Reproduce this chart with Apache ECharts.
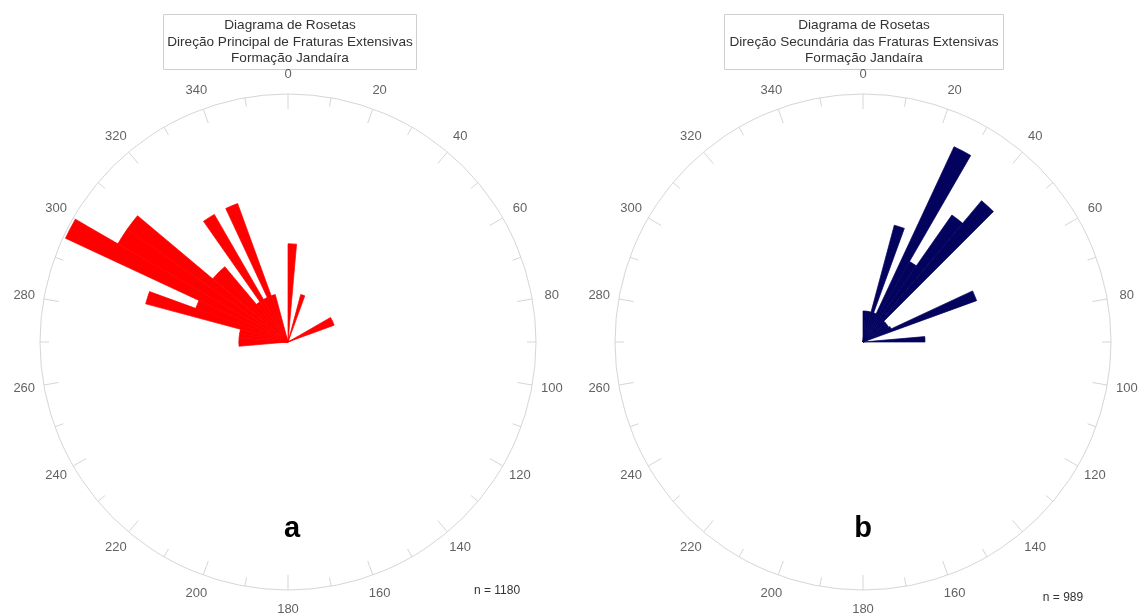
<!DOCTYPE html>
<html>
<head>
<meta charset="utf-8">
<script src="https://cdn.jsdelivr.net/npm/echarts@6/dist/echarts.min.js"></script>
<style>html,body{margin:0;padding:0;background:#fff}#c{width:1142px;height:616px}</style>
</head>
<body>
<div id="c"></div>
<script>
// 5-degree direction bins (start azimuth) and bar lengths (relative frequency units)
const binSize = 5;
const directionsA = [0, 15, 60, 65, 265, 270, 275, 280, 285, 290, 295, 300, 305, 310, 315, 320, 325, 330, 335, 340];
const valuesA     = [2, 1, 1, 1, 1, 1, 1, 1, 3, 2, 5, 4, 4, 2, 2, 1, 3, 1, 3, 1];
const maxA = 5.05;

const directionsB = [0, 5, 10, 15, 20, 25, 30, 35, 40, 45, 50, 55, 60, 65, 85];
const valuesB     = [1, 1, 1, 3.9, 1, 6.95, 3, 5, 5.95, 0.95, 0.95, 0.95, 1, 3.9, 2];
const maxB = 8;

const angleTicks = [0, 20, 40, 60, 80, 100, 120, 140, 160, 180, 200, 220, 240, 260, 280, 300, 320, 340];

const titleA = ['Diagrama de Rosetas', 'Direção Principal de Fraturas Extensivas', 'Formação Jandaíra'];
const titleB = ['Diagrama de Rosetas', 'Direção Secundária das Fraturas Extensivas', 'Formação Jandaíra'];
const nA = 'n = 1180';
const nB = 'n = 989';

// build bin table
const cats = [];
for (let a = 0; a < 360; a += binSize) cats.push(String(a));
function fullBins(dirs, vals) {
  const arr = cats.map(() => 0);
  dirs.forEach((d, i) => { arr[d / binSize] = vals[i]; });
  return arr;
}

const gray = '#d6d6d6';
const FONT = '"Liberation Sans", Arial, sans-serif';
const centers = [[288, 342], [863, 342]];
const R = 248;
const labelRing = 1.08; // in units of the outer circle

function decoAngle(pi) {
  return {
    polarIndex: pi, type: 'value', min: 0, max: 360, interval: 20,
    startAngle: 90, clockwise: true,
    axisLine: { show: true, lineStyle: { color: gray, width: 1 } },
    axisTick: { show: true, inside: true, length: 15, lineStyle: { color: gray, width: 1 } },
    minorTick: { show: true, splitNumber: 2, length: 9, lineStyle: { color: gray, width: 1 } },
    splitLine: { show: false },
    axisLabel: { show: false }
  };
}
function barAngle(pi) {
  return { polarIndex: pi, type: 'category', data: cats, startAngle: 90, clockwise: true, show: false, boundaryGap: true };
}
function labelSeries(pi) {
  return {
    type: 'scatter', coordinateSystem: 'polar', polarIndex: pi, clip: false, silent: true,
    symbolSize: 0, data: angleTicks.map(a => [labelRing, a]),
    label: { show: true, position: 'inside', color: '#3a3a3a', fontSize: 13, fontFamily: FONT,
             formatter: p => String(p.value[1]) }
  };
}

const option = {
  animation: false,
  backgroundColor: '#ffffff',
  polar: [
    { center: centers[0], radius: [0, R] },
    { center: centers[0], radius: [0, R] },
    { center: centers[1], radius: [0, R] },
    { center: centers[1], radius: [0, R] }
  ],
  angleAxis: [decoAngle(0), barAngle(1), decoAngle(2), barAngle(3)],
  radiusAxis: [
    { polarIndex: 0, type: 'value', min: 0, max: 1, show: false },
    { polarIndex: 1, type: 'value', min: 0, max: maxA, show: false },
    { polarIndex: 2, type: 'value', min: 0, max: 1, show: false },
    { polarIndex: 3, type: 'value', min: 0, max: maxB, show: false }
  ],
  series: [
    labelSeries(0),
    labelSeries(2),
    { type: 'bar', coordinateSystem: 'polar', polarIndex: 1, data: fullBins(directionsA, valuesA),
      barCategoryGap: '0%', itemStyle: { color: '#ff0000', borderColor: '#ff0000', borderWidth: 0.7 } },
    { type: 'bar', coordinateSystem: 'polar', polarIndex: 3, data: fullBins(directionsB, valuesB),
      barCategoryGap: '0%', itemStyle: { color: '#03035e', borderColor: '#03035e', borderWidth: 0.7 } }
  ],
  graphic: [
    { type: 'rect', shape: { x: 163.5, y: 14.5, width: 253, height: 55 }, style: { fill: '#fff', stroke: '#cfcfcf', lineWidth: 1 } },
    { type: 'text', style: { text: titleA.join('\n'), x: 290, y: 42, align: 'center', verticalAlign: 'middle', font: '13.6px ' + FONT, lineHeight: 16.5, fill: '#333' } },
    { type: 'rect', shape: { x: 724.5, y: 14.5, width: 279, height: 55 }, style: { fill: '#fff', stroke: '#cfcfcf', lineWidth: 1 } },
    { type: 'text', style: { text: titleB.join('\n'), x: 864, y: 42, align: 'center', verticalAlign: 'middle', font: '13.6px ' + FONT, lineHeight: 16.5, fill: '#333' } },
    { type: 'text', style: { text: 'a', x: 292, y: 529, align: 'center', verticalAlign: 'middle', font: 'bold 29px ' + FONT, fill: '#000' } },
    { type: 'text', style: { text: 'b', x: 863, y: 529, align: 'center', verticalAlign: 'middle', font: 'bold 29px ' + FONT, fill: '#000' } },
    { type: 'text', style: { text: nA, x: 497, y: 591, align: 'center', verticalAlign: 'middle', font: '12px ' + FONT, fill: '#333' } },
    { type: 'text', style: { text: nB, x: 1063, y: 598, align: 'center', verticalAlign: 'middle', font: '12px ' + FONT, fill: '#333' } }
  ]
};
const chart = echarts.init(document.getElementById('c'), null, { renderer: 'canvas' });
chart.setOption(option);
</script>
</body>
</html>
